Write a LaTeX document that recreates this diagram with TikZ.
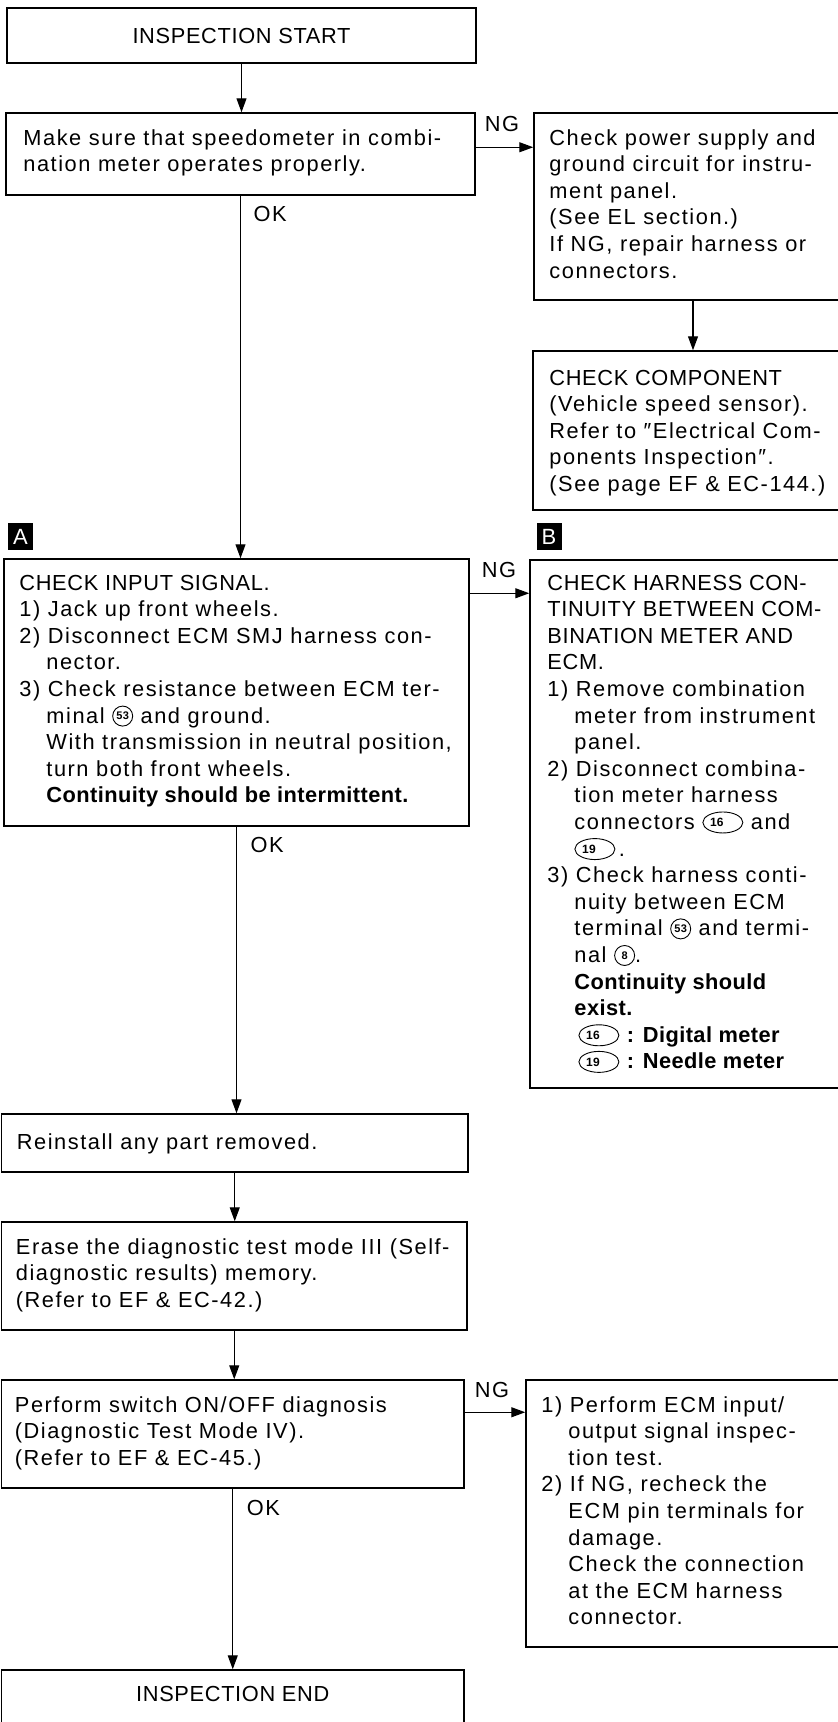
\documentclass[tikz,border=0pt]{standalone}
\usepackage{fontspec}
\setmainfont{Liberation Sans}[LetterSpace=7,BoldFeatures={LetterSpace=2}]
\usetikzlibrary{arrows.meta,fit}

% tighter tracking for all-capital lines
\newcommand{\caps}{\addfontfeatures{LetterSpace=3}}
% inline connector symbol (oval with number)
\newcommand{\conn}[1]{\tikz[baseline={(0pt,-7pt)}]{%
  \draw[line width=0.9pt] (0pt,0pt) ellipse [x radius=20pt, y radius=10.5pt];
  \node[anchor=center, inner sep=0pt, font=\fontsize{12}{12}\selectfont\bfseries] at (-6pt,0pt) {#1};}}
% inline circled terminal number
\newcommand{\term}[1]{\tikz[baseline={(0pt,-7pt)}]{%
  \draw[line width=0.9pt] (0pt,0pt) circle [radius=10pt];
  \node[anchor=center, inner sep=0pt, font=\fontsize{11}{11}\selectfont\bfseries] at (0pt,0pt) {#1};}}

\tikzset{
  box/.style={draw, line width=1.5pt, inner sep=0pt},
  txt/.style={font=\fontsize{21.8}{26.6}\selectfont, align=left, inner sep=0pt, anchor=north west},
  lbl/.style={font=\fontsize{21.8}{26.6}\selectfont, inner sep=0pt},
  arr/.style={line width=1.2pt, -{Triangle[length=14pt,width=10pt]}},
  marker/.style={fill=black, text=white, font=\fontsize{22}{22}\selectfont,
    minimum width=25pt, minimum height=27pt, inner sep=0pt},
}
\newcommand{\ind}{\hspace*{27pt}}

\begin{document}
\begin{tikzpicture}[x=1pt, y=-1pt]
\useasboundingbox (0,0) rectangle (838,1722);

% ---- boxes ----
\node[box, fit={(7,8) (476,63)}] (start) {};
\node[box, fit={(6,113) (475,195)}] (sure) {};
\node[box, fit={(534,113) (852,300)}] (power) {};
\node[box, fit={(533,351) (852,510)}] (comp) {};
\node[box, fit={(4,559) (469,826)}] (inA) {};
\node[box, fit={(530,560) (852,1088)}] (harn) {};
\node[box, fit={(1.5,1114) (468,1172)}] (reinst) {};
\node[box, fit={(1.5,1222) (467,1330)}] (erase) {};
\node[box, fit={(1.5,1380) (464,1488)}] (perf) {};
\node[box, fit={(526,1380) (852,1647)}] (ecm) {};
\node[box, fit={(1.5,1670) (464,1740)}] (endb) {};

% ---- markers ----
\node[marker] (mA) at (20.5,536.5) {A};
\node[marker] (mB) at (549,536.5) {B};

% ---- texts ----
\node[lbl] (tstart) at (start.center) {\caps INSPECTION START};
\node[txt] (tsure) at ([xshift=18pt,yshift=-14pt]sure.north west)
  {\strut Make sure that speedometer in combi-\\nation meter operates properly.};
\node[txt] (tpower) at ([xshift=16pt,yshift=-14pt]power.north west)
  {\strut Check power supply and\\ground circuit for instru-\\ment panel.\\(See EL section.)\\If NG, repair harness or\\connectors.};
\node[txt] (tcomp) at ([xshift=17pt,yshift=-16pt]comp.north west)
  {\strut{\caps CHECK COMPONENT}\\(Vehicle speed sensor).\\Refer to ″Electrical Com-\\ponents Inspection″.\\(See page EF \& EC-144.)};
\node[txt] (tinA) at ([xshift=16pt,yshift=-13pt]inA.north west)
  {\strut{\caps CHECK INPUT SIGNAL.}\\
   1) Jack up front wheels.\\
   2) Disconnect ECM SMJ harness con-\\
   \ind nector.\\
   3) Check resistance between ECM ter-\\
   \ind minal \term{53} and ground.\\
   \ind With transmission in neutral position,\\
   \ind turn both front wheels.\\
   \ind\textbf{Continuity should be intermittent.}};
\node[txt] (tharn) at ([xshift=18pt,yshift=-12pt]harn.north west)
  {\strut{\caps CHECK HARNESS CON-}\\
   {\caps TINUITY BETWEEN COM-}\\
   {\caps BINATION METER AND}\\
   {\caps ECM.}\\
   1) Remove combination\\
   \ind meter from instrument\\
   \ind panel.\\
   2) Disconnect combina-\\
   \ind tion meter harness\\
   \ind connectors \conn{16} and\\
   \ind \conn{19}\,.\\
   3) Check harness conti-\\
   \ind nuity between ECM\\
   \ind terminal \term{53} and termi-\\
   \ind nal \term{8}.\\
   \ind\textbf{Continuity should}\\
   \ind\textbf{exist.}\\
   \ind\hspace*{4pt}\conn{16}\ \textbf{: Digital meter}\\
   \ind\hspace*{4pt}\conn{19}\ \textbf{: Needle meter}};
\node[txt] (treinst) at ([xshift=16pt,yshift=-17pt]reinst.north west)
  {\strut Reinstall any part removed.};
\node[txt] (terase) at ([xshift=15pt,yshift=-14pt]erase.north west)
  {\strut Erase the diagnostic test mode III (Self-\\diagnostic results) memory.\\(Refer to EF \& EC-42.)};
\node[txt] (tperf) at ([xshift=14pt,yshift=-14pt]perf.north west)
  {\strut Perform switch ON/OFF diagnosis\\(Diagnostic Test Mode IV).\\(Refer to EF \& EC-45.)};
\node[txt] (tecm) at ([xshift=16pt,yshift=-14pt]ecm.north west)
  {\strut 1) Perform ECM input/\\
   \ind output signal inspec-\\
   \ind tion test.\\
   2) If NG, recheck the\\
   \ind ECM pin terminals for\\
   \ind damage.\\
   \ind Check the connection\\
   \ind at the ECM harness\\
   \ind connector.};
\node[lbl] (tend) at ([yshift=-25pt]endb.north) {\caps INSPECTION END};

% ---- main flow ----
\draw[arr] (start.south) -- (start.south |- sure.north);
\draw[arr] (sure.south) -- (sure.south |- inA.north);
\draw[arr] (inA.south) -- (inA.south |- reinst.north);
\draw[arr] (reinst.south) -- (reinst.south |- erase.north);
\draw[arr] (erase.south) -- (erase.south |- perf.north);
\draw[arr] (perf.south) -- (perf.south |- endb.north);
\draw[arr] (power.south) -- (power.south |- comp.north);

% ---- NG branches ----
\coordinate (ng1s) at ([yshift=-35pt]sure.north east);
\coordinate (ng2s) at ([yshift=-35pt]inA.north east);
\coordinate (ng3s) at ([yshift=-33pt]perf.north east);
\draw[arr] (ng1s) -- (ng1s -| power.west);
\draw[arr] (ng2s) -- (ng2s -| harn.west);
\draw[arr] (ng3s) -- (ng3s -| ecm.west);
\node[lbl, anchor=south west] (ng1) at ([xshift=9pt,yshift=15pt]ng1s) {NG};
\node[lbl, anchor=south west] (ng2) at ([xshift=12pt,yshift=15pt]ng2s) {NG};
\node[lbl, anchor=south west] (ng3) at ([xshift=10pt,yshift=14pt]ng3s) {NG};

% ---- OK labels ----
\node[lbl, anchor=north west] (ok1) at ([xshift=13pt,yshift=-10pt]sure.south) {OK};
\node[lbl, anchor=north west] (ok2) at ([xshift=14pt,yshift=-10pt]inA.south) {OK};
\node[lbl, anchor=north west] (ok3) at ([xshift=14pt,yshift=-11pt]perf.south) {OK};
\end{tikzpicture}
\end{document}
